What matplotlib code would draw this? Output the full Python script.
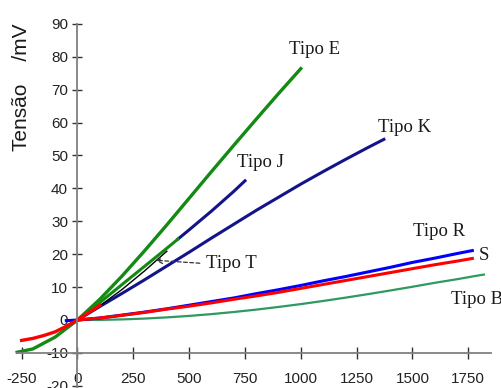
import matplotlib
matplotlib.use("Agg")
import matplotlib.pyplot as plt

plt.rcParams['axes.unicode_minus'] = False
plt.rcParams['font.family'] = ['Liberation Sans', 'DejaVu Sans']

# thermocouple curves (temperature in C, voltage in mV)
e_temp = [-270, -200, -100, 0, 100, 200, 300, 400, 500, 600, 700, 800, 900, 1000]
e_mv = [-9.8, -8.8, -5.2, 0, 6.3, 13.4, 21.0, 28.9, 37.0, 45.1, 53.1, 61.0, 68.8, 76.4]

j_temp = [0, 100, 200, 300, 400, 450, 500, 600, 700, 750]
j_mv = [0, 5.3, 10.8, 16.3, 21.8, 24.6, 27.4, 33.1, 39.1, 42.3]

k_temp = [0, 100, 200, 300, 400, 500, 600, 700, 800, 900, 1000, 1100, 1200, 1300, 1372]
k_mv = [0, 4.1, 8.1, 12.2, 16.4, 20.6, 24.9, 29.1, 33.3, 37.3, 41.3, 45.1, 48.8, 52.4, 54.9]

t_temp = [0, 100, 200, 300, 400]
t_mv = [0, 4.3, 9.3, 14.9, 20.9]

r_temp = [-50, 0, 100, 200, 300, 400, 500, 600, 700, 800, 900, 1000, 1100, 1200, 1300, 1400, 1500, 1600, 1700, 1768]
r_mv = [-0.2, 0, 0.6, 1.5, 2.4, 3.4, 4.5, 5.6, 6.7, 8.0, 9.2, 10.5, 11.9, 13.2, 14.6, 16.0, 17.5, 18.8, 20.2, 21.1]

s_temp = [0, 100, 200, 300, 400, 500, 600, 700, 800, 900, 1000, 1100, 1200, 1300, 1400, 1500, 1600, 1700, 1768]
s_mv = [0, 0.6, 1.4, 2.3, 3.3, 4.2, 5.2, 6.3, 7.3, 8.4, 9.6, 10.8, 12.0, 13.2, 14.4, 15.6, 16.8, 17.9, 18.7]

b_temp = [0, 100, 200, 300, 400, 500, 600, 700, 800, 900, 1000, 1100, 1200, 1300, 1400, 1500, 1600, 1700, 1800, 1820]
b_mv = [0, 0.03, 0.18, 0.43, 0.79, 1.24, 1.79, 2.43, 3.15, 3.96, 4.83, 5.78, 6.79, 7.85, 8.96, 10.1, 11.3, 12.4, 13.6, 13.8]

# red low-temperature branch
neg_temp = [-250, -200, -150, -100, -50, 0, 50, 100]
neg_mv = [-6.2, -5.6, -4.7, -3.6, -1.9, 0, 2.2, 4.5]

xticks = [-250, 0, 250, 500, 750, 1000, 1250, 1500, 1750]
yticks = list(range(-20, 91, 10))

navy = '#14148a'
green = '#138a13'

fig = plt.figure(figsize=(5.02, 3.88), dpi=100)
ax = fig.add_axes([0, 0, 1, 1])

j_cut = j_temp.index(450)
ax.plot(j_temp[j_cut:], j_mv[j_cut:], color=navy, lw=2.2)
ax.plot(j_temp[:j_cut + 1], j_mv[:j_cut + 1], color=green, lw=2.2)
ax.plot(k_temp, k_mv, color=navy, lw=2.2)
ax.plot(e_temp, e_mv, color=green, lw=2.4)
ax.plot(t_temp, t_mv, color='black', lw=1.0)
ax.plot(b_temp, b_mv, color='#2e9960', lw=1.6)
ax.plot(r_temp, r_mv, color='#0000ff', lw=2.2)
ax.plot(s_temp, s_mv, color='#ff0000', lw=2.2)
ax.plot(neg_temp, neg_mv, color='#ff0000', lw=2.4)

ax.set_xlim(-347, 1901)
ax.set_ylim(-20.67, 97.26)

for side in ['top', 'right']:
    ax.spines[side].set_visible(False)
ax.spines['left'].set_position(('data', 0))
ax.spines['bottom'].set_position(('data', -10))
ax.spines['left'].set_bounds(-20.67, 90)
ax.spines['bottom'].set_bounds(-270, 1850)
for side in ['left', 'bottom']:
    ax.spines[side].set_color('#808080')
    ax.spines[side].set_linewidth(1.3)

ax.set_xticks(xticks)
ax.set_yticks(yticks)
ax.tick_params(axis='x', direction='inout', length=8, width=1, color='#333333',
               pad=9.5, labelsize=11, labelcolor='#222222')
ax.tick_params(axis='y', direction='inout', length=6.5, width=1, color='#333333',
               pad=3.5, labelsize=11, labelcolor='#222222')

serif = dict(family='Liberation Serif', fontsize=13.5, color='#1a1a1a', va='baseline')
ax.text(947, 80.9, 'Tipo E', **serif)
ax.text(714, 46.5, 'Tipo J', **serif)
ax.text(1346, 57.1, 'Tipo K', **serif)
ax.text(575, 15.8, 'Tipo T', **serif)
ax.text(1502, 25.5, 'Tipo R', **serif)
ax.text(1798, 18.2, 'S', **serif)
ax.text(1672, 4.9, 'Tipo B', **serif)

ax.annotate('', xy=(338, 18.2), xytext=(560, 17.2),
            arrowprops=dict(arrowstyle='->', linestyle=(0, (3, 2)), color='#333333', lw=0.9))

fig.text(22 / 502, 1 - 87 / 388, 'Tensão    /mV', rotation=90, ha='center', va='center',
         fontsize=15, color='#1a1a1a')

fig.savefig('out.png', dpi=100)
